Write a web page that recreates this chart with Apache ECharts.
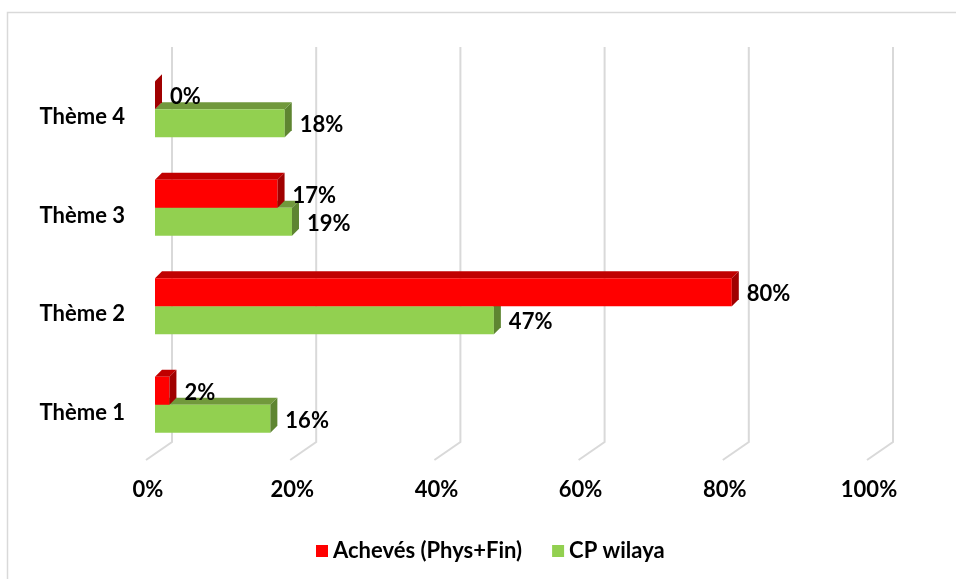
<!DOCTYPE html>
<html>
<head>
<meta charset="utf-8">
<script src="https://cdn.jsdelivr.net/npm/echarts@6/dist/echarts.min.js"></script>
<style>
  html, body { margin: 0; padding: 0; background: #fff; }
  #chart { width: 956px; height: 579px; }
</style>
</head>
<body>
<div id="chart"></div>
<script>
// données
const categories = ['Thème 1', 'Thème 2', 'Thème 3', 'Thème 4'];
const acheves = [2, 80, 17, 0];
const cpWilaya = [16, 47, 19, 18];
const tickValues = [0, 20, 40, 60, 80, 100];

const FONT = 'Lato';
const FS = 22;
const BAR_H = 28;   // hauteur face avant
const DEPTH = 7;    // profondeur 3D

function bar3d(above, front, top, side) {
    return function (params, api) {
        const cat = api.value(1);
        const v = api.value(0);
        const p0 = api.coord([0, cat]);
        const p1 = api.coord([v, cat]);
        const x0 = p0[0], x1 = p1[0];
        const y = above ? p0[1] - BAR_H : p0[1];
        const d = DEPTH;
        const children = [];
        if (x1 > x0) {
            children.push({
                type: 'polygon',
                shape: { points: [[x0, y], [x0 + d, y - d], [x1 + d, y - d], [x1, y]] },
                style: { fill: top }
            });
            children.push({
                type: 'rect',
                shape: { x: x0, y: y, width: x1 - x0, height: BAR_H },
                style: { fill: front }
            });
        }
        children.push({
            type: 'polygon',
            shape: { points: [[x1, y], [x1 + d, y - d], [x1 + d, y + BAR_H - d], [x1, y + BAR_H]] },
            style: { fill: side }
        });
        children.push({
            type: 'text',
            style: {
                x: x1 + d + 8,
                y: y + BAR_H / 2 + 2,
                text: v + '%',
                fill: '#000',
                font: 'bold ' + FS + 'px ' + FONT,
                verticalAlign: 'middle',
                align: 'left'
            }
        });
        return { type: 'group', children: children };
    };
}

function wallLines(params, api) {
    const v = api.value(0);
    const b = api.coord([v, 0]);
    const t = api.coord([v, 1]);
    return {
        type: 'polyline',
        shape: { points: [[t[0], t[1]], [b[0], b[1]], [b[0] - 26, b[1] + 18]] },
        style: { stroke: '#D9D9D9', lineWidth: 2, fill: null }
    };
}

const chart = echarts.init(document.getElementById('chart'));
chart.setOption({
    animation: false,
    backgroundColor: '#fff',
    textStyle: { fontFamily: FONT },
    graphic: [{
        type: 'rect',
        shape: { x: 7.5, y: 12.5, width: 1000, height: 1000 },
        style: { fill: null, stroke: '#D9D9D9', lineWidth: 1.5 },
        silent: true
    }],
    legend: {
        data: ['Achevés (Phys+Fin)', 'CP wilaya'],
        left: 311,
        top: 535,
        icon: 'rect',
        itemWidth: 12,
        itemHeight: 12,
        itemGap: 30,
        textStyle: { fontFamily: FONT, fontWeight: 'bold', fontSize: FS, color: '#000' }
    },
    grid: [
        { left: 155, right: 80, top: 60, bottom: 125 },   // barres (face avant)
        { left: 172, right: 63, top: 47, bottom: 137 },   // paroi arrière
        { left: 148, right: 87, top: 47, bottom: 119 },   // étiquettes axe X
        { left: 155, right: 80, top: 68, bottom: 117 }    // étiquettes catégories
    ],
    xAxis: [
        { gridIndex: 0, type: 'value', min: 0, max: 100, show: false },
        { gridIndex: 1, type: 'value', min: 0, max: 100, show: false },
        {
            gridIndex: 2, type: 'value', min: 0, max: 100, interval: 20,
            axisLine: { show: false }, axisTick: { show: false }, splitLine: { show: false },
            axisLabel: {
                formatter: '{value}%', margin: 19,
                fontFamily: FONT, fontWeight: 'bold', fontSize: FS, color: '#000'
            }
        },
        { gridIndex: 3, type: 'value', min: 0, max: 100, show: false }
    ],
    yAxis: [
        { gridIndex: 0, type: 'category', data: categories, show: false },
        { gridIndex: 1, type: 'value', min: 0, max: 1, show: false },
        { gridIndex: 2, type: 'value', min: 0, max: 1, show: false },
        {
            gridIndex: 3, type: 'category', data: categories,
            axisLine: { show: false }, axisTick: { show: false }, splitLine: { show: false },
            axisLabel: {
                margin: 30,
                fontFamily: FONT, fontWeight: 'bold', fontSize: FS, color: '#000'
            }
        }
    ],
    series: [
        {
            type: 'custom',
            xAxisIndex: 1, yAxisIndex: 1,
            data: tickValues.map(v => [v]),
            encode: { x: 0 },
            renderItem: wallLines,
            clip: false,
            silent: true,
            z: 1
        },
        {
            name: 'CP wilaya',
            type: 'custom',
            xAxisIndex: 0, yAxisIndex: 0,
            itemStyle: { color: '#92D050' },
            data: cpWilaya.map((v, i) => [v, i]),
            encode: { x: 0, y: 1 },
            renderItem: bar3d(false, '#92D050', '#71993C', '#5E8531'),
            clip: false,
            z: 3
        },
        {
            name: 'Achevés (Phys+Fin)',
            type: 'custom',
            xAxisIndex: 0, yAxisIndex: 0,
            itemStyle: { color: '#FF0000' },
            data: acheves.map((v, i) => [v, i]),
            encode: { x: 0, y: 1 },
            renderItem: bar3d(true, '#FF0000', '#C00000', '#A00000'),
            clip: false,
            z: 4
        }
    ]
});
</script>
</body>
</html>
